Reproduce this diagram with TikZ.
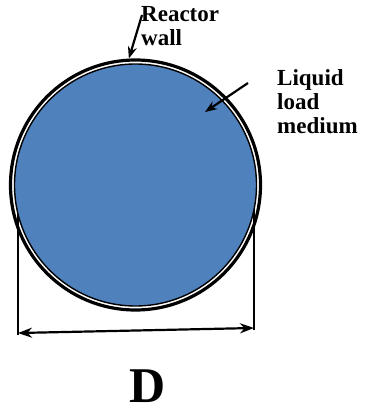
\documentclass[tikz,border=0pt]{standalone}
\usepackage{fontspec}
\setmainfont{Liberation Serif}
\usetikzlibrary{positioning,arrows.meta}
\definecolor{loadblue}{HTML}{4F81BD}

\begin{document}
\begin{tikzpicture}[x=1pt, y=-1pt,
  lbl/.style={font=\fontsize{23}{24}\selectfont\bfseries, inner sep=0pt, align=left},
  dim/.style={line width=2.2pt},
  >={Stealth[length=12pt, width=9pt]}]
\useasboundingbox (0,0) rectangle (366,415);
% dimension line ends
\coordinate (dl) at (18,335);
\coordinate (dr) at (254,330);
\draw[dim] (dl) -- (18,200);
\draw[dim] (dr) -- (254,200);
% vessel: liquid and wall
\node[circle, fill=loadblue, draw, line width=1.4pt, minimum size=242pt, inner sep=0pt] (vessel) at (135.5,185) {};
\node[circle, draw, line width=3.2pt, minimum size=250pt, inner sep=0pt] (wall) at (vessel) {};
% labels
\node[lbl, anchor=north west] (wallLbl) at (141,6) {Reactor\\wall};
\node[lbl, anchor=north west] (liqLbl) at (277,69) {Liquid\\load\\medium};
\node[font=\fontsize{50}{50}\selectfont\bfseries, inner sep=0pt] (dimLbl) at (148,386) {D};
% arrows
\draw[->, dim] ([xshift=1pt, yshift=-9pt]wallLbl.north west) -- (wall.93);
\coordinate (liqTail) at (248,83);
\coordinate (liqTip) at (205,112);
\draw[->, dim] (liqTail) -- (liqTip);
\draw[<->, dim, >={Stealth[length=14pt, width=10pt]}] ([yshift=2pt]dl) -- ([yshift=2pt]dr);
\end{tikzpicture}
\end{document}
